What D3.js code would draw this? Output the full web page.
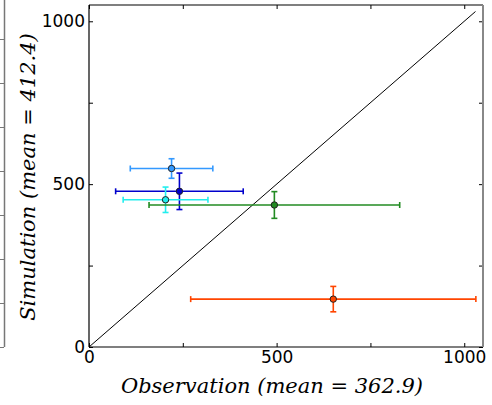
<!DOCTYPE html>
<html>
<head>
<meta charset="utf-8">
<script src="https://cdn.jsdelivr.net/npm/d3@7"></script>
<style>
  body { margin: 0; background: #fff; }
  svg { display: block; }
  .tick text { font-family: "DejaVu Sans", sans-serif; font-size: 17px; fill: #000; }
  .lbl { font-family: "DejaVu Serif", serif; font-style: italic; font-size: 21px; fill: #000; }
</style>
</head>
<body>
<svg width="492" height="405"></svg>
<script>
// chart values
var names = ["lightblue", "darkblue", "cyan", "green", "orange"];
var colors = ["#3399ff", "#0000cc", "#22eeee", "#228b22", "#ff4500"];
var obsMean = [220, 241, 204, 494, 651];
var obsErr = [110, 170, 113, 334, 380];
var simMean = [548, 478, 452, 436, 147];
var simErr = [30, 56, 39, 41, 39];
var xTicks = [0, 250, 500, 750, 1000];
var yTicks = [0, 250, 500, 750, 1000];
var diagonal = [0, 1030];
var xLabel = "Observation (mean = 362.9)";
var yLabel = "Simulation (mean = 412.4)";

var svg = d3.select("svg");
var pLeft = 89, pRight = 483, pTop = 5, pBottom = 347;

var x = d3.scaleLinear().domain([0, 1050]).range([pLeft, pRight]);
var y = d3.scaleLinear().domain([0, 1050]).range([pBottom, pTop]);

// neighbouring panel's spine, cut off at the left edge
var ghost = d3.scaleLinear().domain([0, 7]).range([347, 39]);
svg.append("g")
    .attr("transform", "translate(4,0)")
    .call(d3.axisLeft(ghost).ticks(8).tickSize(4).tickFormat(""))
    .call(function(g) {
      g.select(".domain").remove();
      g.selectAll("line").attr("stroke", "#777");
    });
svg.append("line")
    .attr("x1", 4.5).attr("x2", 4.5).attr("y1", 0).attr("y2", 347)
    .attr("stroke", "#777").attr("stroke-width", 1.5);

// diagonal 1:1 line
svg.append("line")
    .attr("x1", x(diagonal[0])).attr("y1", y(diagonal[0]))
    .attr("x2", x(diagonal[1])).attr("y2", y(diagonal[1]))
    .attr("stroke", "#000").attr("stroke-width", 1);

// axes (inward ticks, matplotlib style)
var xAxis = svg.append("g")
    .attr("transform", "translate(0," + pBottom + ")")
    .call(d3.axisBottom(x).tickValues(xTicks).tickSize(-4).tickPadding(4)
      .tickFormat(function(d) { return d % 500 === 0 ? d : ""; }));
var yAxis = svg.append("g")
    .attr("transform", "translate(" + pLeft + ",0)")
    .call(d3.axisLeft(y).tickValues(yTicks).tickSize(-4).tickPadding(4)
      .tickFormat(function(d) { return d % 500 === 0 ? d : ""; }));
svg.append("g")
    .attr("transform", "translate(0," + pTop + ")")
    .call(d3.axisTop(x).tickValues(xTicks).tickSize(-4).tickFormat(""))
    .select(".domain").remove();
svg.append("g")
    .attr("transform", "translate(" + pRight + ",0)")
    .call(d3.axisRight(y).tickValues(yTicks).tickSize(-4).tickFormat(""))
    .select(".domain").remove();

xAxis.select(".domain").remove();
yAxis.select(".domain").remove();
xAxis.selectAll("text").attr("dy", "0.72em");

// frame
svg.append("line").attr("x1", pLeft).attr("x2", pRight).attr("y1", pBottom).attr("y2", pBottom)
    .attr("stroke", "#000").attr("stroke-width", 1.2);
svg.append("line").attr("x1", pLeft).attr("x2", pLeft).attr("y1", pTop).attr("y2", pBottom)
    .attr("stroke", "#000").attr("stroke-width", 1.2);
svg.append("line").attr("x1", pLeft).attr("x2", pRight).attr("y1", pTop).attr("y2", pTop)
    .attr("stroke", "#000").attr("stroke-width", 1.2);
svg.append("line").attr("x1", pRight).attr("x2", pRight).attr("y1", pTop).attr("y2", pBottom)
    .attr("stroke", "#888").attr("stroke-width", 2);

// error bars
var data = names.map(function(n, i) {
  return { name: n, color: colors[i], ox: obsMean[i], ex: obsErr[i], sy: simMean[i], ey: simErr[i] };
});

var cap = 3;
var bars = svg.append("g").selectAll("g").data(data).enter().append("g")
    .attr("stroke", function(d) { return d.color; })
    .attr("stroke-width", 1.6);

bars.append("line")
    .attr("x1", function(d) { return x(d.ox - d.ex); })
    .attr("x2", function(d) { return x(d.ox + d.ex); })
    .attr("y1", function(d) { return y(d.sy); })
    .attr("y2", function(d) { return y(d.sy); });
bars.append("line")
    .attr("x1", function(d) { return x(d.ox); })
    .attr("x2", function(d) { return x(d.ox); })
    .attr("y1", function(d) { return y(d.sy - d.ey); })
    .attr("y2", function(d) { return y(d.sy + d.ey); });
[-1, 1].forEach(function(s) {
  bars.append("line")
      .attr("x1", function(d) { return x(d.ox + s * d.ex); })
      .attr("x2", function(d) { return x(d.ox + s * d.ex); })
      .attr("y1", function(d) { return y(d.sy) - cap; })
      .attr("y2", function(d) { return y(d.sy) + cap; });
  bars.append("line")
      .attr("x1", function(d) { return x(d.ox) - cap; })
      .attr("x2", function(d) { return x(d.ox) + cap; })
      .attr("y1", function(d) { return y(d.sy + s * d.ey); })
      .attr("y2", function(d) { return y(d.sy + s * d.ey); });
});
bars.append("circle")
    .attr("cx", function(d) { return x(d.ox); })
    .attr("cy", function(d) { return y(d.sy); })
    .attr("r", 3.2)
    .attr("fill", function(d) { return d.color; })
    .attr("stroke", "#222")
    .attr("stroke-width", 1);

// labels
svg.append("text").attr("class", "lbl")
    .attr("x", 272).attr("y", 393)
    .attr("text-anchor", "middle")
    .text(xLabel);
svg.append("text").attr("class", "lbl")
    .attr("transform", "translate(35,177) rotate(-90)")
    .attr("text-anchor", "middle")
    .text(yLabel);
</script>
</body>
</html>
